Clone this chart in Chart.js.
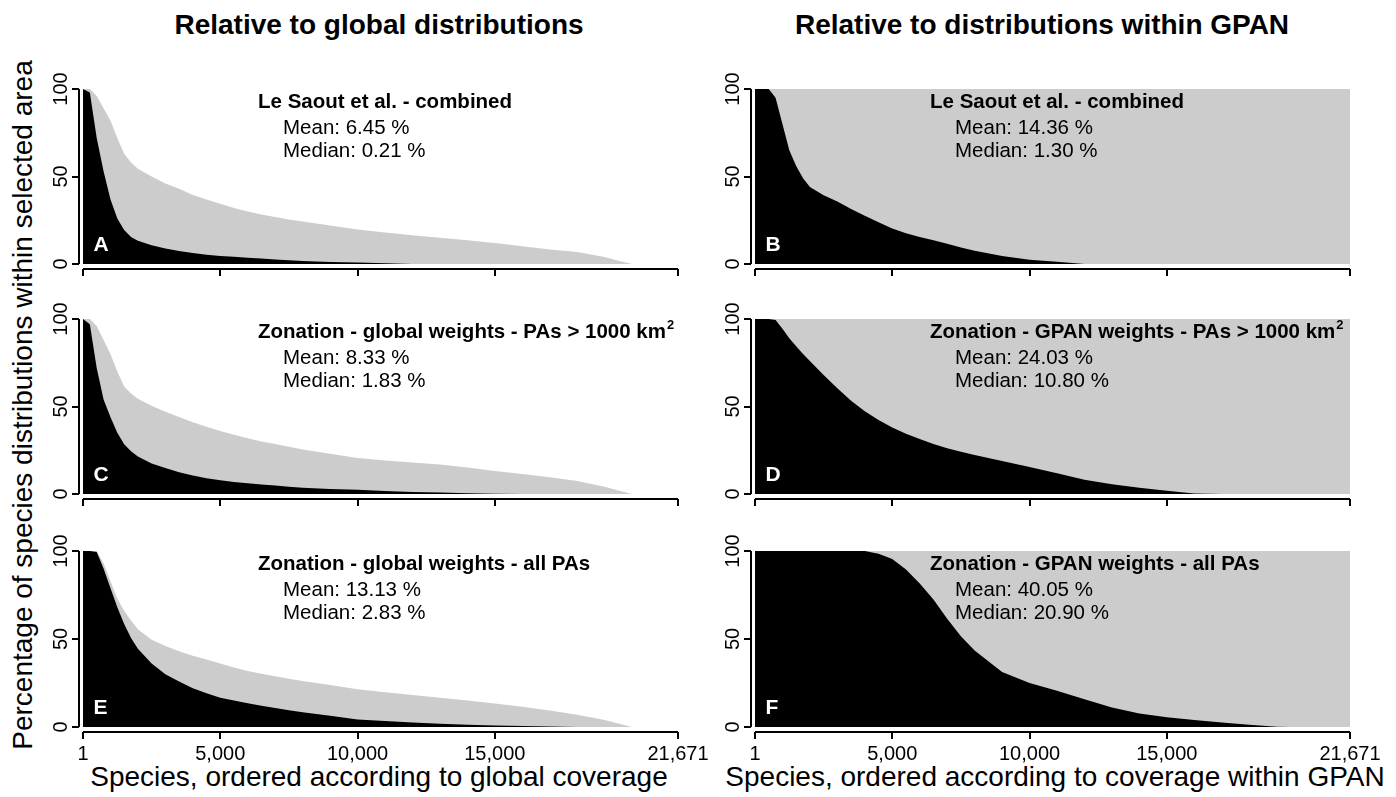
<!DOCTYPE html>
<html>
<head>
<meta charset="utf-8">
<title>Species coverage within protected areas</title>
<script src="https://cdn.jsdelivr.net/npm/chart.js@4.4.1/dist/chart.umd.min.js"></script>
<style>
  body { margin: 0; background: #fff; font-family: "Liberation Sans", Arial, sans-serif; }
  #fig { position: relative; width: 1396px; height: 797px; overflow: hidden; background: #fff; }
  #fig canvas { position: absolute; }
  .lbl { position: absolute; white-space: nowrap; line-height: 1; color: #000; transform: translate(-50%, -50%); }
  .head { font-weight: bold; font-size: 28px; }
  .axt { font-size: 28px; }
</style>
</head>
<body>
<div id="fig">
  <div class="lbl head" style="left:379px; top:25px;">Relative to global distributions</div>
  <div class="lbl head" style="left:1042px; top:25px;">Relative to distributions within GPAN</div>
  <div class="lbl axt" style="left:23px; top:405px; transform:translate(-50%,-50%) rotate(-90deg);">Percentage of species distributions within selected area</div>
  <div class="lbl axt" style="left:379px; top:777px;">Species, ordered according to global coverage</div>
  <div class="lbl axt" style="left:1055px; top:777px;">Species, ordered according to coverage within GPAN</div>
</div>
<script>
  // species rank (x) shared by the left-hand panels and the black series
  var ranks = [1, 250, 500, 750, 1000, 1250, 1500, 1750, 2000, 2500, 3000, 3500, 4000, 4500, 5000, 5500, 6000, 6500,
               7000, 7500, 8000, 9000, 10000, 11000, 12000, 13000, 14000, 15000, 16000, 17000, 18000, 19000, 19500, 20000, 21000, 21671];

  // gray: species range within GPAN, relative to global distribution
  var grayA = [100, 100, 96, 89, 82, 72, 63, 58, 54.5, 50, 46, 43, 39.5, 36.8, 34.5, 32, 30, 28.3,
               26.8, 25.5, 24.3, 22, 19.7, 18, 16.5, 15, 13.6, 12, 10.2, 8.3, 6.8, 4, 1.8, 0, 0, 0];
  var grayC = [100, 100, 96, 88, 80, 70, 61.5, 57.5, 54.5, 50.5, 47, 44, 41, 38.5, 36, 33.8, 31.8, 30,
               28.6, 27, 25.5, 23, 20.6, 19.2, 18, 16.8, 15.2, 13.2, 11.5, 9.6, 7.5, 4.2, 2, 0, 0, 0];
  var grayE = [100, 100, 100, 93, 83, 73, 66, 60.5, 55.5, 49.5, 46, 43, 40.5, 38.3, 36, 33.8, 31.8, 30.2,
               28.8, 27.4, 26.1, 23.8, 21.5, 19.8, 18.2, 16.6, 15, 13.4, 11.5, 9.4, 7, 4, 2, 0, 0, 0];

  // black: species range inside the selected areas
  var blackA = [100, 98, 72, 53, 37, 26, 19.5, 15.5, 13.3, 10.7, 8.8, 7.4, 6.3, 5.3, 4.6, 4.1, 3.6, 3.1,
                2.6, 2.1, 1.7, 1.2, 0.9, 0.4, 0, 0, 0, 0, 0, 0, 0, 0, 0, 0, 0, 0];
  var blackC = [100, 97, 72, 54, 44, 35, 28.5, 24.5, 21.5, 17.5, 14.8, 12.5, 10.6, 9, 7.9, 6.9, 6.1, 5.4,
                4.8, 4.2, 3.6, 2.9, 2.4, 1.7, 1.2, 0.9, 0.5, 0.1, 0, 0, 0, 0, 0, 0, 0, 0];
  var blackE = [100, 100, 99.5, 90, 79, 68, 58.5, 50.5, 44.5, 36, 30, 25.8, 22, 19.2, 16.6, 15, 13.5, 12.1,
                10.8, 9.5, 8.3, 6.4, 4.3, 3.4, 2.5, 1.9, 1.3, 0.9, 0.5, 0.2, 0, 0, 0, 0, 0, 0];
  var blackB = [100, 100, 100, 95, 80, 65, 56, 49, 44, 39.3, 35.7, 31.5, 27.6, 23.8, 20.3, 17.6, 15.5, 13.6,
                11.6, 9.4, 7.6, 4.6, 2.4, 1.3, 0, 0, 0, 0, 0, 0, 0, 0, 0, 0, 0, 0];
  var blackD = [100, 100, 100, 99.5, 94.5, 89, 84.5, 80, 76, 68, 60.5, 53.3, 47.3, 42.3, 38, 34.5, 31.4, 28.6,
                26.2, 24.2, 22.3, 18.9, 15.4, 11.8, 8.2, 5.6, 3.6, 1.8, 0.3, 0, 0, 0, 0, 0, 0, 0];
  var blackF = [100, 100, 100, 100, 100, 100, 100, 100, 100, 100, 100, 100, 100, 98.5, 95.5, 89.5, 81.5, 72.5,
                61.5, 51.5, 43.5, 31.2, 25, 20.6, 15.8, 11, 7.6, 5.5, 4, 2.6, 1.2, 0.1, 0, 0, 0, 0];

  // right-hand panels: the whole GPAN range is 100 %
  var gpanRanks = [1, 21671];
  var gpanGray = [100, 100];

  var xTicks = [1, 5000, 10000, 15000, 21671];
  var yTicks = [0, 50, 100];

  var panels = [
    { col: 0, row: 0, letter: 'A', gx: ranks, gray: grayA, black: blackA,
      title: 'Le Saout et al. - combined', sup: '', mean: 'Mean: 6.45 %', median: 'Median: 0.21 %' },
    { col: 1, row: 0, letter: 'B', gx: gpanRanks, gray: gpanGray, black: blackB,
      title: 'Le Saout et al. - combined', sup: '', mean: 'Mean: 14.36 %', median: 'Median: 1.30 %' },
    { col: 0, row: 1, letter: 'C', gx: ranks, gray: grayC, black: blackC,
      title: 'Zonation - global weights - PAs > 1000 km', sup: '2', mean: 'Mean: 8.33 %', median: 'Median: 1.83 %' },
    { col: 1, row: 1, letter: 'D', gx: gpanRanks, gray: gpanGray, black: blackD,
      title: 'Zonation - GPAN weights - PAs > 1000 km', sup: '2', mean: 'Mean: 24.03 %', median: 'Median: 10.80 %' },
    { col: 0, row: 2, letter: 'E', gx: ranks, gray: grayE, black: blackE,
      title: 'Zonation - global weights - all PAs', sup: '', mean: 'Mean: 13.13 %', median: 'Median: 2.83 %' },
    { col: 1, row: 2, letter: 'F', gx: gpanRanks, gray: gpanGray, black: blackF,
      title: 'Zonation - GPAN weights - all PAs', sup: '', mean: 'Mean: 40.05 %', median: 'Median: 20.90 %' }
  ];

  // layout of the canvases (pixels)
  var colLeft = [0, 700], colWidth = [720, 696], yAxisWidth = [79, 51], padRight = [42, 46];
  var rowTop = [60, 290, 520], rowHeight = [231, 231, 277], padTop = [29, 29, 31], xAxisHeight = [22, 22, 65];

  var FONT = '"Liberation Sans", Arial, sans-serif';
  Chart.defaults.font.family = FONT;
  Chart.defaults.color = '#000';

  function pts(xs, ys) {
    return xs.map(function (x, i) { return { x: x, y: ys[i] }; });
  }

  // R-like axis lines plus the panel texts
  var panelText = {
    id: 'panelText',
    afterDraw: function (chart, args, o) {
      var ctx = chart.ctx, xs = chart.scales.x, ys = chart.scales.y, a = chart.chartArea;
      var x0 = xs.getPixelForValue(1), top = ys.getPixelForValue(100), base = ys.getPixelForValue(0);
      ctx.save();
      ctx.strokeStyle = '#000';
      ctx.lineWidth = 2;
      ctx.beginPath();
      var by = Math.round(a.bottom);
      ctx.moveTo(xs.getPixelForValue(xTicks[0]), by);
      ctx.lineTo(xs.getPixelForValue(xTicks[xTicks.length - 1]), by);
      var lx = Math.round(a.left);
      ctx.moveTo(lx, base);
      ctx.lineTo(lx, top);
      ctx.stroke();

      ctx.fillStyle = '#000';
      ctx.textBaseline = 'middle';
      ctx.textAlign = 'left';
      ctx.font = 'bold 20.5px ' + FONT;
      ctx.fillText(o.title, x0 + 175, top + 13);
      if (o.sup) {
        var w = ctx.measureText(o.title).width;
        ctx.font = 'bold 13px ' + FONT;
        ctx.fillText(o.sup, x0 + 175 + w + 1, top + 6);
      }
      ctx.font = '20.5px ' + FONT;
      ctx.fillText(o.mean, x0 + 200, top + 39);
      ctx.fillText(o.median, x0 + 200, top + 62.5);

      ctx.fillStyle = '#fff';
      ctx.font = 'bold 21px ' + FONT;
      ctx.fillText(o.letter, x0 + 10.5, base - 19);
      ctx.restore();
    }
  };

  var fig = document.getElementById('fig');

  panels.forEach(function (p) {
    var cv = document.createElement('canvas');
    cv.width = colWidth[p.col];
    cv.height = rowHeight[p.row];
    cv.style.left = colLeft[p.col] + 'px';
    cv.style.top = rowTop[p.row] + 'px';
    fig.appendChild(cv);

    var bottomRow = p.row === 2;

    new Chart(cv.getContext('2d'), {
      type: 'line',
      data: {
        datasets: [
          { data: pts(ranks, p.black), backgroundColor: '#000000', borderColor: 'rgba(0,0,0,0)',
            borderWidth: 0, fill: 'origin', pointRadius: 0, tension: 0 },
          { data: pts(p.gx, p.gray), backgroundColor: '#cccccc', borderColor: 'rgba(0,0,0,0)',
            borderWidth: 0, fill: 'origin', pointRadius: 0, tension: 0 }
        ]
      },
      options: {
        responsive: false,
        animation: false,
        events: [],
        layout: { padding: { left: 0, right: padRight[p.col], top: padTop[p.row], bottom: 0 } },
        plugins: {
          legend: { display: false },
          tooltip: { enabled: false },
          panelText: { title: p.title, sup: p.sup, mean: p.mean, median: p.median, letter: p.letter }
        },
        scales: {
          x: {
            type: 'linear',
            min: -145,
            max: 21671,
            border: { display: false },
            grid: { drawOnChartArea: false, drawTicks: true, tickLength: 7, color: '#000', lineWidth: 2 },
            afterBuildTicks: function (s) { s.ticks = xTicks.map(function (v) { return { value: v }; }); },
            afterFit: function (s) { s.height = xAxisHeight[p.row]; },
            ticks: {
              display: bottomRow,
              autoSkip: false,
              maxRotation: 0,
              padding: 3,
              font: { size: 20 },
              callback: function (v) { return Number(v).toLocaleString('en-US'); }
            }
          },
          y: {
            type: 'linear',
            min: -2.857,
            max: 100,
            border: { display: false },
            grid: { drawOnChartArea: false, drawTicks: true, tickLength: 7, color: '#000', lineWidth: 2 },
            afterBuildTicks: function (s) { s.ticks = yTicks.map(function (v) { return { value: v }; }); },
            afterFit: function (s) { s.width = yAxisWidth[p.col]; },
            ticks: {
              minRotation: 90,
              maxRotation: 90,
              crossAlign: 'center',
              padding: -6,
              font: { size: 20 }
            }
          }
        }
      },
      plugins: [panelText]
    });
  });
</script>
</body>
</html>
